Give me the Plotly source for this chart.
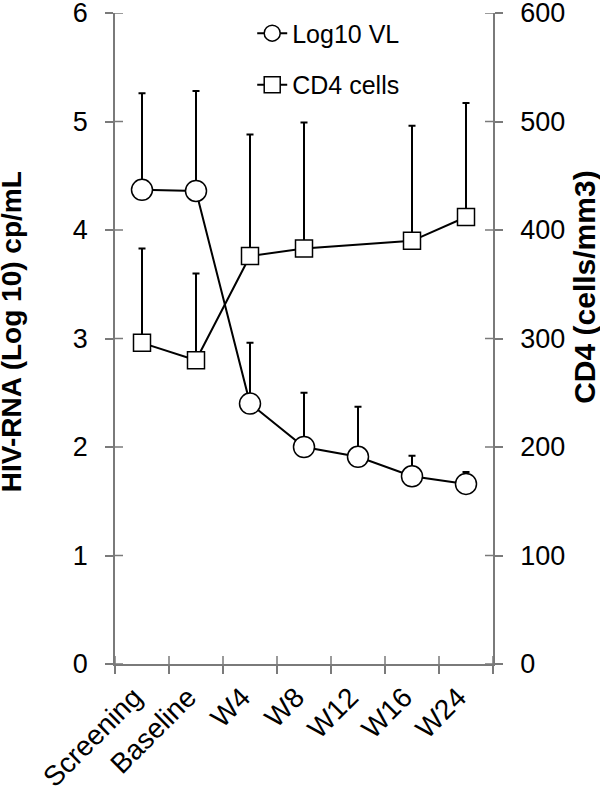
import plotly.graph_objects as go

categories = ["Screening", "Baseline", "W4", "W8", "W12", "W16", "W24"]
vl_mean = [4.37, 4.36, 2.40, 2.00, 1.91, 1.73, 1.66]
vl_err = [0.89, 0.92, 0.56, 0.50, 0.46, 0.19, 0.11]
cd4_mean = [296, 280, 376, 383, None, 390, 412]
cd4_err = [87, 80, 112, 116, None, 106, 105]
y_left_ticks = [0, 1, 2, 3, 4, 5, 6]
y_right_ticks = [0, 100, 200, 300, 400, 500, 600]

FONT = "Arial, Liberation Sans, sans-serif"
AXIS_COLOR = "#7a7a7a"

fig = go.Figure()

fig.add_trace(go.Scatter(
    x=categories, y=vl_mean, name="Log10 VL", mode="lines+markers",
    legendgroup="a",
    line=dict(color="black", width=2),
    marker=dict(symbol="circle", size=21, color="white",
                line=dict(color="black", width=1.5)),
    error_y=dict(type="data", array=vl_err, arrayminus=[0] * len(vl_err),
                 symmetric=False, color="black", thickness=2, width=3.5),
    yaxis="y",
))

fig.add_trace(go.Scatter(
    x=categories, y=cd4_mean, name="CD4 cells", mode="lines+markers",
    legendgroup="b", connectgaps=True,
    line=dict(color="black", width=2),
    marker=dict(symbol="square", size=17, color="white",
                line=dict(color="black", width=1.5)),
    error_y=dict(type="data", array=cd4_err,
                 arrayminus=[0] * len(cd4_err),
                 symmetric=False, color="black", thickness=2, width=3.5),
    yaxis="y2",
))

PW = 600 - 115 - 107
PH = 788 - 13 - 124
tick_in = 8

shapes = []
for v in y_left_ticks:
    shapes.append(dict(type="line", xref="paper", yref="y", x0=0, x1=tick_in / PW,
                       y0=v, y1=v, line=dict(color=AXIS_COLOR, width=1.5)))
for v in y_right_ticks:
    shapes.append(dict(type="line", xref="paper", yref="y2", x0=1 - tick_in / PW, x1=1,
                       y0=v, y1=v, line=dict(color=AXIS_COLOR, width=1.5)))
for i in range(len(categories) + 1):
    shapes.append(dict(type="line", xref="x", yref="paper", x0=i - 0.5, x1=i - 0.5,
                       y0=0, y1=tick_in / PH, line=dict(color=AXIS_COLOR, width=1.5)))

fig.update_layout(
    width=600, height=788,
    margin=dict(l=115, r=107, t=13, b=124, autoexpand=False),
    paper_bgcolor="white", plot_bgcolor="white",
    font=dict(family=FONT, color="black", size=27),
    showlegend=True,
    legend=dict(x=0.363, y=1.004, xanchor="left", yanchor="top",
                font=dict(size=25, family=FONT), tracegroupgap=16,
                bgcolor="rgba(0,0,0,0)"),
    xaxis=dict(type="category", categoryarray=categories, range=[-0.5, 6.5],
               automargin=False, ticklabeloverflow="allow",
               showline=True, linecolor=AXIS_COLOR, linewidth=1.5,
               ticks="outside", ticklen=8, tickcolor=AXIS_COLOR, tickwidth=1.5,
               tickson="boundaries", tickangle=-45,
               ticklabelshift=-8, ticklabelstandoff=4,
               tickfont=dict(size=28), showgrid=False, zeroline=False),
    yaxis=dict(range=[0, 6], tickvals=y_left_ticks, automargin=False,
               ticklabeloverflow="allow",
               showline=True, linecolor=AXIS_COLOR, linewidth=1.5,
               ticks="outside", ticklen=8, tickcolor=AXIS_COLOR, tickwidth=1.5,
               ticklabelstandoff=12,
               tickfont=dict(size=27), showgrid=False, zeroline=False),
    yaxis2=dict(range=[0, 600], tickvals=y_right_ticks, overlaying="y", side="right",
                automargin=False, ticklabeloverflow="allow",
                showline=True, linecolor=AXIS_COLOR, linewidth=1.5,
                ticks="outside", ticklen=8, tickcolor=AXIS_COLOR, tickwidth=1.5,
                ticklabelstandoff=12,
                tickfont=dict(size=27), showgrid=False, zeroline=False),
    shapes=shapes,
    annotations=[
        dict(text="<b>HIV-RNA (Log 10) cp/mL</b>", xref="paper", yref="paper",
             x=-0.272, y=0.51, xanchor="center", yanchor="middle", textangle=-90,
             showarrow=False, font=dict(size=28, family=FONT)),
        dict(text="<b>CD4 (cells/mm3)</b>", xref="paper", yref="paper",
             x=1.24, y=0.579, xanchor="center", yanchor="middle", textangle=-90,
             showarrow=False, font=dict(size=30, family=FONT)),
    ],
)

fig.write_html("out.html", config={"displayModeBar": False},
               post_script="document.body.style.margin='0';document.body.style.overflow='hidden';")
